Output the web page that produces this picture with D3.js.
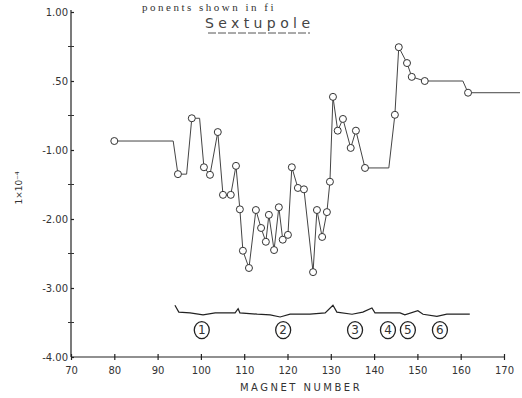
<!DOCTYPE html>
<html>
<head>
<meta charset="utf-8">
<script src="https://cdn.jsdelivr.net/npm/d3@7"></script>
<style>
  body { margin: 0; background: #fff; }
  svg { display: block; }
  text { font-family: "DejaVu Sans", sans-serif; fill: #333; }
</style>
</head>
<body>
<div id="chart"></div>
<script>
// line vertices (magnet number, value x1e-4); corners of flat runs have no circle
const magnets = [80, 93.6, 94.7, 96.7, 97.9, 99.7, 100.7, 102.1, 103.9, 105.1, 106.9, 108.1, 109.0, 109.7, 111.1,
  112.7, 113.9, 115.0, 115.7, 116.9, 118.0, 118.9, 120.1, 121.0, 122.4, 123.8, 125.9, 126.8, 128.0, 129.1,
  129.8, 130.5, 131.6, 132.8, 134.6, 135.8, 137.9, 143.4, 144.8, 145.7, 147.6, 148.7, 151.7, 160.5, 161.7, 173.7];
const values = [-0.87, -0.87, -1.35, -1.35, -0.54, -0.54, -1.25, -1.36, -0.74, -1.65, -1.65, -1.23, -1.86, -2.46, -2.71,
  -1.87, -2.13, -2.33, -1.94, -2.45, -1.83, -2.30, -2.23, -1.25, -1.55, -1.57, -2.77, -1.87, -2.26, -1.90,
  -1.46, -0.23, -0.72, -0.55, -0.97, -0.72, -1.26, -1.26, -0.49, 0.49, 0.26, 0.06, 0.0, 0.0, -0.17, -0.17];
const noCircle = [1, 3, 5, 37, 43, 45];

// magnet layout trace along the bottom
const traceMag = [94.0, 94.9, 97.5, 100.5, 103.3, 105.1, 107.9, 108.6, 109.0, 113.0, 116.0, 118.3, 120.6, 125.2,
  128.7, 130.5, 131.4, 134.9, 137.4, 139.5, 140.2, 143.0, 146.0, 147.1, 150.1, 151.3, 154.5, 156.8, 162.1];
const traceVal = [-3.25, -3.35, -3.36, -3.39, -3.36, -3.36, -3.36, -3.30, -3.36, -3.38, -3.39, -3.42, -3.38, -3.38,
  -3.36, -3.25, -3.35, -3.38, -3.35, -3.29, -3.36, -3.36, -3.36, -3.39, -3.33, -3.38, -3.41, -3.38, -3.38];

const sectionLabels = ['1', '2', '3', '4', '5', '6'];
const sectionMag = [100.2, 119.0, 135.6, 143.2, 147.8, 155.2];

const xTicks = [70, 80, 90, 100, 110, 120, 130, 140, 150, 160, 170];
const yTicks = [1, 0, -1, -2, -3, -4];
const yTickLabels = ['1.00', '.50', '-1.00', '-2.00', '-3.00', '-4.00'];

const width = 522, height = 398;
const x = d3.scaleLinear().domain([70, 170]).range([71, 504]);
const y = d3.scaleLinear().domain([-4, 1]).range([357, 12]);

const svg = d3.select('#chart').append('svg')
  .attr('width', width)
  .attr('height', height);

// caption text at the very top (cut off in the scan)
svg.append('text')
  .attr('x', 142).attr('y', 11)
  .style('font-family', '"Liberation Serif", serif')
  .style('font-size', '11px')
  .style('letter-spacing', '2.5px')
  .text('ponents shown in fi');

// title
svg.append('text')
  .attr('x', 205).attr('y', 28)
  .attr('textLength', 105)
  .style('font-size', '14px')
  .style('fill', '#444')
  .text('Sextupole');
svg.append('line')
  .attr('x1', 208).attr('x2', 310)
  .attr('y1', 33).attr('y2', 33)
  .attr('stroke', '#555').attr('stroke-width', 1).attr('stroke-dasharray', '8,2');

// axes
const xAxis = d3.axisBottom(x).tickValues(xTicks).tickSize(3).tickFormat(d3.format('d'));
const gx = svg.append('g').attr('transform', `translate(0,${y(-4)})`).call(xAxis);
gx.selectAll('.tick line').attr('y1', -3);
gx.select('.domain').attr('d', `M${x(70)},0H${x(170)}`);

const yAxis = d3.axisLeft(y).tickValues(yTicks).tickSize(4)
  .tickFormat((d, i) => yTickLabels[i]);
const gy = svg.append('g').attr('transform', `translate(${x(70)},0)`).call(yAxis);
gy.selectAll('.tick line').attr('x2', 3);
gy.select('.domain').attr('d', `M0,${y(1) - 2}V${y(-4)}`);

// minor ticks on the y axis
gy.selectAll('.minor')
  .data([0.5, -0.5, -1.5, -2.5, -3.5])
  .enter().append('line')
  .attr('x1', -3).attr('x2', 3)
  .attr('y1', d => y(d)).attr('y2', d => y(d))
  .attr('stroke', '#333');

svg.selectAll('.domain, .tick line').attr('stroke', '#222').attr('stroke-width', 1.2);
gx.selectAll('.tick text').attr('dy', '1.05em')
  .style('font-size', '10px').style('font-family', '"DejaVu Sans", sans-serif').attr('fill', '#222');
gy.selectAll('.tick text').attr('x', -3)
  .style('font-size', '10px').style('font-family', '"DejaVu Sans", sans-serif').attr('fill', '#222');

// axis titles
svg.append('text')
  .attr('x', 301).attr('y', 391)
  .attr('text-anchor', 'middle')
  .style('font-size', '10px')
  .style('letter-spacing', '2.5px')
  .text('MAGNET NUMBER');

svg.append('text')
  .attr('transform', 'translate(22,188) rotate(-90)')
  .attr('text-anchor', 'middle')
  .style('font-size', '9px')
  .text('1×10⁻⁴');

// data line
const pts = magnets.map((m, i) => [m, values[i]]);
const line = d3.line().x(d => x(d[0])).y(d => y(d[1]));
svg.append('path')
  .datum(pts)
  .attr('d', line)
  .attr('fill', 'none')
  .attr('stroke', '#444')
  .attr('stroke-width', 1);

svg.selectAll('.pt')
  .data(pts.filter((d, i) => !noCircle.includes(i)))
  .enter().append('circle')
  .attr('cx', d => x(d[0]))
  .attr('cy', d => y(d[1]))
  .attr('r', 3.5)
  .attr('fill', '#fff')
  .attr('stroke', '#333')
  .attr('stroke-width', 1);

// magnet layout trace
const tr = traceMag.map((m, i) => [m, traceVal[i]]);
svg.append('path')
  .datum(tr)
  .attr('d', line)
  .attr('fill', 'none')
  .attr('stroke', '#222')
  .attr('stroke-width', 1.2);

// circled section numbers
const sec = svg.selectAll('.sec')
  .data(sectionLabels)
  .enter().append('g')
  .attr('transform', (d, i) => `translate(${x(sectionMag[i])},${y(-3.61)})`);
sec.append('ellipse')
  .attr('rx', 7.5).attr('ry', 8.5)
  .attr('fill', 'none').attr('stroke', '#222').attr('stroke-width', 1.3);
sec.append('text')
  .attr('text-anchor', 'middle')
  .attr('dy', '0.36em')
  .style('font-size', '12px')
  .text(d => d);
</script>
</body>
</html>
